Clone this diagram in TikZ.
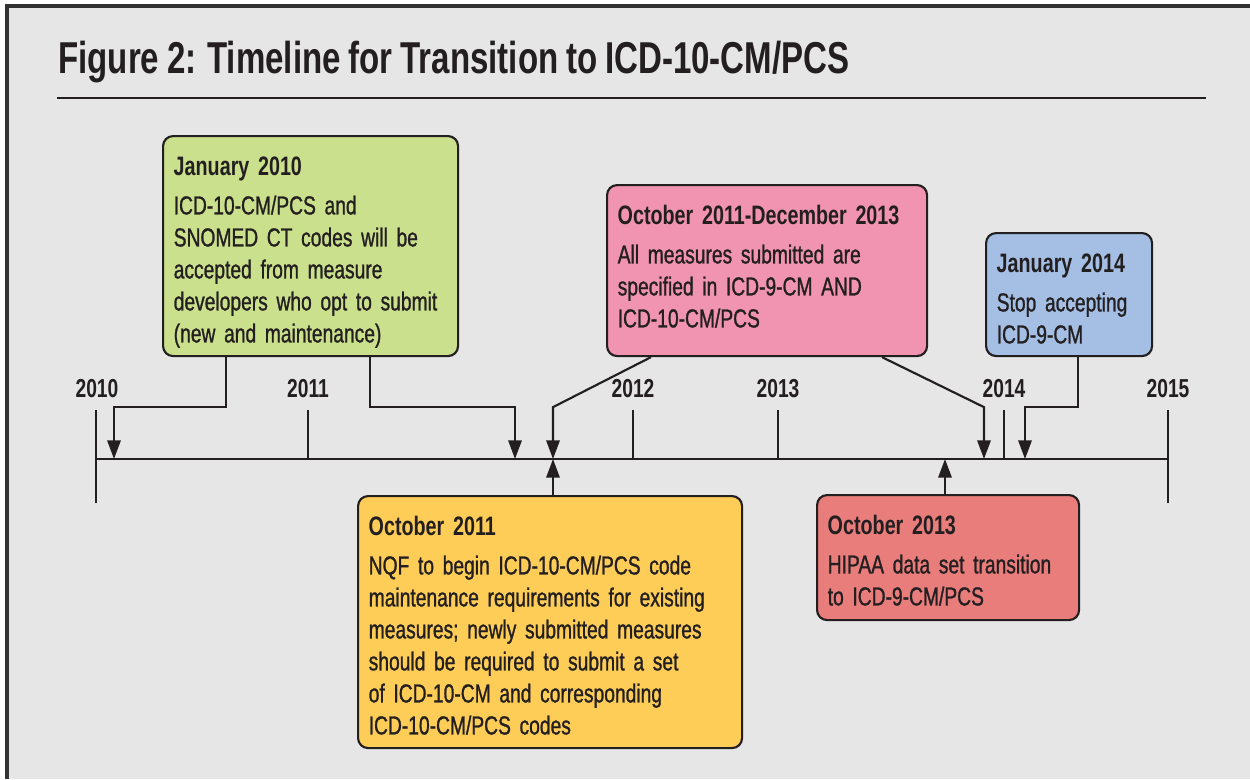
\documentclass[tikz,border=0pt]{standalone}
\usepackage{fontspec}
\setmainfont{Liberation Sans}[FakeStretch=0.74,WordSpace=0.85,UprightFeatures={FakeBold=1}]
\usetikzlibrary{arrows.meta,calc}
\definecolor{panelgray}{RGB}{230,230,230}
\definecolor{framedark}{RGB}{50,50,50}
\definecolor{inkblack}{RGB}{35,31,32}
\definecolor{jangreen}{RGB}{203,224,141}
\definecolor{spanpink}{RGB}{240,148,178}
\definecolor{stopblue}{RGB}{164,190,228}
\definecolor{octyellow}{RGB}{254,205,88}
\definecolor{hipaared}{RGB}{232,125,123}
\newcommand{\evhead}[1]{{\bfseries\fontsize{20}{24}\selectfont #1}\\[5.5pt]}

\begin{document}
\begin{tikzpicture}[x=0.75pt,y=0.75pt,yscale=-1,xscale=1,
	eventbox/.style={draw=inkblack,line width=1.6pt,rounded corners=7.5pt,anchor=north west,align=left,inner xsep=8pt,inner ysep=10.25pt,text height=19pt,font=\fontsize{19.5}{24}\selectfont,text=inkblack},
	yearlabel/.style={anchor=base,inner sep=0pt,font=\bfseries\fontsize{19.5}{22}\selectfont,text=inkblack},
	axisline/.style={draw=inkblack,line width=1.7pt},
	pointer/.style={draw=inkblack,line width=1.6pt,-{Triangle[length=14pt,width=10pt]}}]
	\useasboundingbox (0,0) rectangle (1250,779);
	\fill[white] (0,0) rectangle (1250,779);
	\fill[panelgray] (7,6) rectangle (1250,779);
	\draw[framedark,line width=2.4pt] (1250,6) -- (7,6) -- (7,779);
	\node[anchor=base west,inner sep=0pt,font=\bfseries\fontsize{33.5}{36}\selectfont,text=inkblack] (title) at (58,73) {Figure 2: Timeline for Transition to ICD-10-CM/PCS};
	\draw[inkblack,line width=1.6pt] (57,98) -- (1206,98);

	\draw[axisline] (96,459) -- (1168,459);
	\draw[axisline] (96,410) -- (96,503);
	\draw[axisline] (1168,410) -- (1168,503);
	\node[yearlabel] (y2010) at (97,397) {2010};
	\node[yearlabel] (y2015) at (1168,397) {2015};
	\foreach \x/\yr in {308/2011,633/2012,778/2013,1004/2014} {
		\draw[axisline] (\x,410) -- (\x,459);
		\node[yearlabel] (y\yr) at (\x,397) {\yr};
	}

	\coordinate (p1) at (114,459);
	\coordinate (p2) at (515,459);
	\coordinate (p3) at (553,459);
	\coordinate (p4) at (984,459);
	\coordinate (p5) at (1025,459);
	\coordinate (p6) at (945,459);

	\node[eventbox,fill=jangreen,minimum width=221.25pt,text width=205.25pt,text depth=125.5pt] (jan10) at (162,135) {\evhead{January 2010}ICD-10-CM/PCS and\\SNOMED CT codes will be\\accepted from measure\\developers who opt to submit\\(new and maintenance)};
	\node[eventbox,fill=spanpink,minimum width=240pt,text width=224pt,text depth=88.75pt] (span) at (606,184) {\evhead{October 2011-December 2013}All measures submitted are\\specified in ICD-9-CM AND\\ICD-10-CM/PCS};
	\node[eventbox,fill=stopblue,minimum width=124.5pt,text width=108.5pt,text depth=52.75pt] (jan14) at (985,232) {\evhead{January 2014}Stop accepting\\ICD-9-CM};
	\node[eventbox,fill=octyellow,minimum width=288pt,text width=272pt,text depth=149.5pt] (oct11) at (357,495) {\evhead{October 2011}NQF to begin ICD-10-CM/PCS code\\maintenance requirements for existing\\measures; newly submitted measures\\should be required to submit a set\\of ICD-10-CM and corresponding\\ICD-10-CM/PCS codes};
	\node[eventbox,fill=hipaared,minimum width=196.5pt,text width=180.5pt,text depth=54.25pt] (oct13) at (816,494) {\evhead{October 2013}HIPAA data set transition\\to ICD-9-CM/PCS};

	\draw[pointer] ($(jan10.south west)+(64,0)$) -- ++(0,50) -| (p1);
	\draw[pointer] ($(jan10.south west)+(208,0)$) -- ++(0,50) -| (p2);
	\draw[pointer] ($(span.south west)+(45,0)$) -- ++(-98,50) -- (p3);
	\draw[pointer] ($(span.south west)+(276,0)$) -- ++(102,50) -- (p4);
	\draw[pointer] ($(jan14.south west)+(93,0)$) -- ++(0,50) -| (p5);
	\draw[pointer] (oct11.north -| p3) -- (p3);
	\draw[pointer] (oct13.north -| p6) -- (p6);
\end{tikzpicture}
\end{document}
